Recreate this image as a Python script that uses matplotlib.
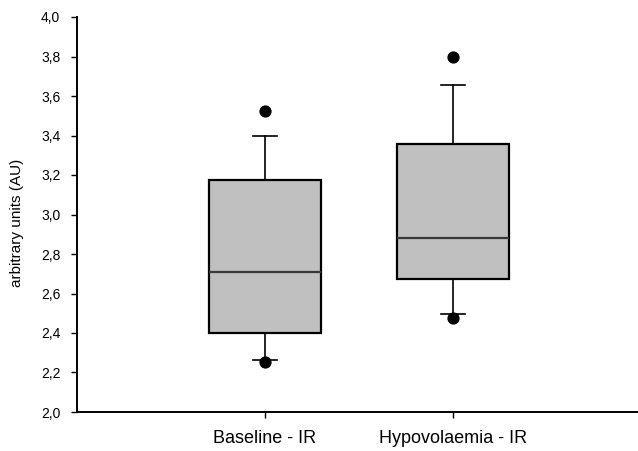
import matplotlib
matplotlib.use("Agg")
import matplotlib.pyplot as plt

plt.rcParams['font.family'] = ['Liberation Sans', 'DejaVu Sans']

categories = ["Baseline - IR", "Hypovolaemia - IR"]
q1 = [2.40, 2.675]
medians = [2.71, 2.88]
q3 = [3.175, 3.355]
whisker_low = [2.265, 2.495]
whisker_high = [3.40, 3.655]
outliers = [[3.525, 2.255], [3.80, 2.478]]

y_ticks = [2.0, 2.2, 2.4, 2.6, 2.8, 3.0, 3.2, 3.4, 3.6, 3.8, 4.0]
y_tick_labels = ["2,0", "2,2", "2,4", "2,6", "2,8", "3,0", "3,2", "3,4", "3,6", "3,8", "4,0"]

stats = []
for i, c in enumerate(categories):
    stats.append(dict(label=c, q1=q1[i], med=medians[i], q3=q3[i],
                      whislo=whisker_low[i], whishi=whisker_high[i],
                      fliers=outliers[i]))

fig = plt.figure(figsize=(6.38, 4.51), dpi=100)
ax = fig.add_axes([77/638, 1-412/451, 1-77/638, (412-17)/451])

ax.bxp(stats, positions=[1, 2], widths=0.60, patch_artist=True,
       boxprops=dict(facecolor="#c0c0c0", edgecolor="black", linewidth=1.6),
       medianprops=dict(color="#383838", linewidth=1.6),
       whiskerprops=dict(color="black", linewidth=1.2),
       capprops=dict(color="black", linewidth=1.2),
       capwidths=0.125,
       flierprops=dict(marker="o", markerfacecolor="black", markeredgecolor="black", markersize=7.8))

ax.set_xlim(0, 2.984)
ax.set_ylim(2.0, 4.0)
ax.set_yticks(y_ticks)
ax.set_yticklabels(y_tick_labels)
ax.set_xticks([1, 2])
ax.set_xticklabels(categories, fontsize=13)
ax.set_ylabel("arbitrary units (AU)", fontsize=11)
ax.yaxis.set_label_coords(-0.0945, 0.48)
ax.tick_params(axis='y', labelsize=10, length=4, direction='out', width=1, pad=8)
ax.tick_params(axis='x', length=4, direction='out', width=1, pad=9)
ax.spines['top'].set_visible(False)
ax.spines['right'].set_visible(False)
ax.spines['left'].set_linewidth(1.4)
ax.spines['bottom'].set_linewidth(1.4)

fig.savefig("out.png", dpi=100)
